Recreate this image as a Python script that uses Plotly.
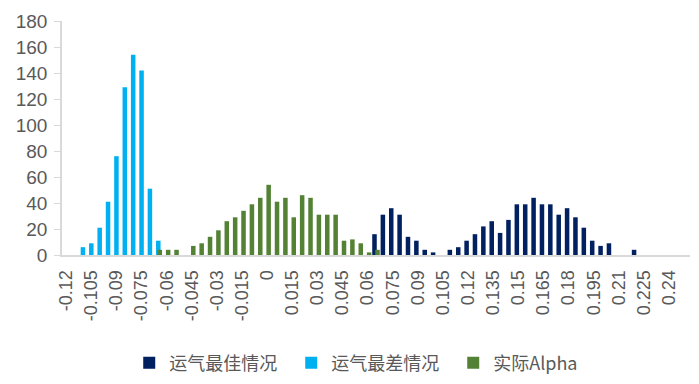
import plotly.graph_objects as go

# 运气最佳情况 (best luck)
best_x = [0.065, 0.07, 0.075, 0.08, 0.085, 0.09, 0.095, 0.1, 0.105, 0.11, 0.115, 0.12,
          0.125, 0.13, 0.135, 0.14, 0.145, 0.15, 0.155, 0.16, 0.165, 0.17, 0.175, 0.18,
          0.185, 0.19, 0.195, 0.2, 0.205, 0.21, 0.215, 0.22]
best_y = [16, 31, 36, 31, 14, 11, 4, 2, 0, 4, 6, 11,
          16, 22, 26, 17, 27, 39, 39, 44, 39, 39, 31, 36,
          29, 21, 11, 7, 9, 0, 0, 4]

# 运气最差情况 (worst luck)
worst_x = [-0.11, -0.105, -0.1, -0.095, -0.09, -0.085, -0.08, -0.075, -0.07, -0.065]
worst_y = [6, 9, 21, 41, 76, 129, 154, 142, 51, 11]

# 实际Alpha (actual)
actual_x = [-0.065, -0.06, -0.055, -0.05, -0.045, -0.04, -0.035, -0.03, -0.025, -0.02,
            -0.015, -0.01, -0.005, 0, 0.005, 0.01, 0.015, 0.02, 0.025, 0.03,
            0.035, 0.04, 0.045, 0.05, 0.055, 0.06, 0.065]
actual_y = [4, 4, 4, 0, 7, 9, 14, 19, 26, 29,
            34, 39, 44, 54, 41, 44, 29, 46, 44, 31,
            31, 31, 11, 12, 9, 2, 4]

tick_vals = [-0.12, -0.105, -0.09, -0.075, -0.06, -0.045, -0.03, -0.015, 0, 0.015, 0.03,
             0.045, 0.06, 0.075, 0.09, 0.105, 0.12, 0.135, 0.15, 0.165, 0.18, 0.195,
             0.21, 0.225, 0.24]
tick_text = ["-0.12", "-0.105", "-0.09", "-0.075", "-0.06", "-0.045", "-0.03", "-0.015", "0",
             "0.015", "0.03", "0.045", "0.06", "0.075", "0.09", "0.105", "0.12", "0.135",
             "0.15", "0.165", "0.18", "0.195", "0.21", "0.225", "0.24"]

FONT = "Liberation Sans, Arial, Noto Sans CJK SC"
W = 0.0027
D = 0.0009

fig = go.Figure()
fig.add_trace(go.Bar(x=best_x, y=best_y, name="运气最佳情况", marker_color="#002060",
                     width=W, offset=-W / 2 - D, marker_line_width=0))
fig.add_trace(go.Bar(x=worst_x, y=worst_y, name="运气最差情况", marker_color="#00B0F0",
                     width=W, offset=-W / 2, marker_line_width=0))
fig.add_trace(go.Bar(x=actual_x, y=actual_y, name="实际Alpha", marker_color="#548235",
                     width=W, offset=-W / 2 + D, marker_line_width=0))

# the page body adds an 8px margin; the figure is sized so the plot lands where the reference has it
fig.update_layout(
    width=691, height=376,
    margin=dict(l=54, r=9, t=13, b=129, autoexpand=False),
    paper_bgcolor="white", plot_bgcolor="white",
    barmode="overlay",
    font=dict(family=FONT, color="#595959", size=17),
    showlegend=True,
    legend=dict(orientation="h", x=0.494, xanchor="center", y=0.056, yanchor="middle",
                yref="container", font=dict(size=18, family="Noto Sans CJK SC, Liberation Sans"),
                entrywidth=117, itemwidth=30, traceorder="normal"),
)
fig.update_xaxes(range=[-0.1225, 0.2525], tickmode="array", tickvals=tick_vals,
                 ticktext=tick_text, tickangle=-90, showgrid=False, zeroline=False,
                 showline=True, linecolor="#d9d9d9", linewidth=2, ticks="",
                 tickfont=dict(size=18, color="#595959"), ticklabelstandoff=6,
                 automargin=False)
fig.update_yaxes(range=[0, 180], dtick=20, showgrid=False, zeroline=False,
                 showline=True, linecolor="#d9d9d9", linewidth=1.5, ticks="outside",
                 ticklen=6, tickcolor="#d9d9d9", tickfont=dict(size=19, color="#595959"),
                 ticklabelstandoff=3, automargin=False)

fig.write_html("out.html")
